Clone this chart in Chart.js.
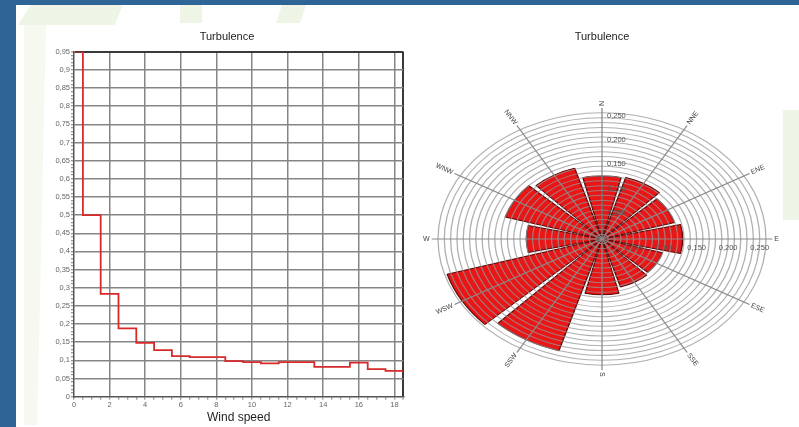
<!DOCTYPE html>
<html>
<head>
<meta charset="utf-8">
<script src="https://cdn.jsdelivr.net/npm/chart.js@4/dist/chart.umd.min.js"></script>
<style>
  html, body { margin: 0; padding: 0; background: #ffffff; }
  #page { position: relative; width: 799px; height: 427px; overflow: hidden; background: #ffffff; }
  .frame { position: absolute; background: #2f6496; }
  .tint { position: absolute; background: #eef5e6; }
  canvas { position: absolute; }
</style>
</head>
<body>
<div id="page">
  <div class="tint" style="left:18px;top:5px;width:105px;height:20px;clip-path:polygon(12% 0,100% 0,92% 100%,0 100%);"></div>
  <div class="tint" style="left:24px;top:25px;width:22px;height:400px;clip-path:polygon(0 0,100% 0,60% 100%,0 100%);opacity:0.6;"></div>
  <div class="tint" style="left:180px;top:5px;width:22px;height:18px;"></div>
  <div class="tint" style="left:276px;top:5px;width:30px;height:18px;clip-path:polygon(20% 0,100% 0,80% 100%,0 100%);"></div>
  <div class="tint" style="left:783px;top:110px;width:16px;height:110px;"></div>
  <div class="frame" style="left:0;top:0;width:799px;height:5px;"></div>
  <div class="frame" style="left:0;top:0;width:16px;height:427px;"></div>
  <canvas id="stepChart" width="400" height="407" style="left:20px;top:20px;width:400px;height:407px;"></canvas>
  <canvas id="roseChart" width="379" height="407" style="left:420px;top:20px;width:379px;height:407px;"></canvas>
</div>
<script>
// ---- Turbulence by wind speed bin (bins centred on whole m/s) ----
const windSpeedBins = [0, 1, 2, 3, 4, 5, 6, 7, 8, 9, 10, 11, 12, 13, 14, 15, 16, 17, 18];
const turbulenceBySpeed = [0.95, 0.5, 0.283, 0.188, 0.148, 0.128, 0.112, 0.109, 0.109, 0.098,
                           0.095, 0.092, 0.095, 0.095, 0.082, 0.082, 0.094, 0.076, 0.071];
const speedAxisMax = 18.5;
const turbulenceAxisMax = 0.95;

// ---- Turbulence by direction sector ----
const directionLabels = ['N', 'NNE', 'ENE', 'E', 'ESE', 'SSE', 'S', 'SSW', 'WSW', 'W', 'WNW', 'NNW'];
const turbulenceByDirection = [0.130, 0.132, 0.120, 0.128, 0.100, 0.103, 0.115, 0.240, 0.256, 0.120, 0.160, 0.152];
const roseRingMax = 0.26;
const roseTickLabels = [0.05, 0.10, 0.15, 0.20, 0.25];

const FONT = '"Liberation Sans", Arial, sans-serif';
const commaNum = (v, digits) => v.toFixed(digits).replace('.', ',');

// ---------- step chart ----------
// each bin is held flat from its lower edge to its upper edge
const stepPoints = windSpeedBins.map((s, i) => ({ x: Math.max(0, s - 0.5), y: turbulenceBySpeed[i] }));
stepPoints.push({ x: speedAxisMax, y: turbulenceBySpeed[turbulenceBySpeed.length - 1] });

const isMajorY = v => Math.round(v * 100) % 5 === 0;
const yLabel = v => {
  const r = Math.round(v * 100) / 100;
  return String(r).replace('.', ',');
};

new Chart(document.getElementById('stepChart'), {
  type: 'line',
  data: {
    datasets: [{
      data: stepPoints,
      stepped: true,
      borderColor: '#d82a2a',
      borderWidth: 1.8,
      pointRadius: 0,
      fill: false
    }]
  },
  options: {
    responsive: false,
    animation: false,
    events: [],
    layout: { padding: { left: 30.7, right: 16.7, top: 0, bottom: 0 } },
    plugins: {
      legend: { display: false },
      tooltip: { enabled: false },
      title: {
        display: true,
        text: 'Turbulence',
        color: '#222',
        font: { family: FONT, size: 11, weight: 'normal' },
        padding: { top: 10, bottom: 8.5 }
      }
    },
    scales: {
      x: {
        type: 'linear',
        min: 0,
        max: speedAxisMax,
        afterFit: s => { s.height = 30.3; },
        ticks: {
          stepSize: 0.5,
          autoSkip: false,
          maxRotation: 0,
          padding: 1,
          color: '#666',
          font: { family: FONT, size: 7.5 },
          callback: v => (Math.abs(v % 2) < 1e-9 ? String(v) : '')
        },
        grid: {
          color: c => {
            const v = c.tick ? c.tick.value : 0;
            if (Math.abs(v - speedAxisMax) < 1e-9) return '#3a3a3a';
            if (v > 0 && Math.abs(v % 2) < 1e-9) return '#858585';
            return 'rgba(0,0,0,0)';
          },
          lineWidth: c => (c.tick && Math.abs(c.tick.value - speedAxisMax) < 1e-9 ? 2 : 1.5),
          tickColor: '#777',
          tickLength: 3,
          tickWidth: 1
        },
        border: { color: '#555', width: 1.5 },
        title: {
          display: true,
          text: 'Wind speed',
          color: '#1e1e1e',
          font: { family: FONT, size: 12 },
          padding: { top: 0, bottom: 2 }
        }
      },
      y: {
        min: 0,
        max: turbulenceAxisMax,
        afterFit: s => { s.width = 23.3; },
        ticks: {
          stepSize: 0.01,
          autoSkip: false,
          padding: 1,
          color: '#666',
          font: { family: FONT, size: 7.5 },
          callback: v => (isMajorY(v) ? yLabel(v) : '')
        },
        grid: {
          color: c => {
            const v = c.tick ? c.tick.value : 0;
            if (Math.abs(v - turbulenceAxisMax) < 1e-9) return '#3a3a3a';
            if (v > 0 && isMajorY(v)) return '#858585';
            return 'rgba(0,0,0,0)';
          },
          lineWidth: c => (c.tick && Math.abs(c.tick.value - turbulenceAxisMax) < 1e-9 ? 2 : 1.5),
          tickColor: '#777',
          tickLength: 3,
          tickWidth: 1
        },
        border: { color: '#555', width: 1.5 }
      }
    }
  }
});

// ---------- direction rose ----------
// sectors are 27 deg wide with a 3 deg gap; the N sector is split in two halves
const SECTOR_DEG = 27, GAP_DEG = 3, ROSE_STRETCH = 1.3;
const arcValues = [], arcAngles = [], arcIsGap = [];
function pushArc(v, a, gap) { arcValues.push(v); arcAngles.push(a); arcIsGap.push(gap); }
pushArc(turbulenceByDirection[0], SECTOR_DEG / 2, false);
pushArc(0, GAP_DEG, true);
for (let i = 1; i < turbulenceByDirection.length; i++) {
  pushArc(turbulenceByDirection[i], SECTOR_DEG, false);
  pushArc(0, GAP_DEG, true);
}
pushArc(turbulenceByDirection[0], SECTOR_DEG / 2, false);

const roseStretch = {
  id: 'roseStretch',
  beforeDatasetsDraw(chart) {
    const r = chart.scales.r, ctx = chart.ctx;
    ctx.save();
    ctx.translate(r.xCenter, 0);
    ctx.scale(ROSE_STRETCH, 1);
    ctx.translate(-r.xCenter, 0);
  },
  afterDraw(chart) {
    const r = chart.scales.r, ctx = chart.ctx;
    ctx.restore();
    const cx = r.xCenter, cy = r.yCenter;
    ctx.save();
    ctx.fillStyle = '#555';
    ctx.font = '7.5px ' + FONT;
    // value labels along the N and E axes
    roseTickLabels.forEach(v => {
      const d = r.getDistanceFromCenterForValue(v);
      ctx.textAlign = 'left';
      ctx.textBaseline = 'middle';
      ctx.fillText(commaNum(v, 3), cx + 5, cy - d - 2);
      ctx.textAlign = 'center';
      ctx.fillText(commaNum(v, 3), cx + d * ROSE_STRETCH, cy + 9);
    });
    // direction labels, turned along their spokes
    ctx.fillStyle = '#444';
    ctx.font = '7px ' + FONT;
    ctx.textBaseline = 'middle';
    directionLabels.forEach((lab, i) => {
      const end = r.getPointPosition(i, r.getDistanceFromCenterForValue(r.max));
      const dx = (end.x - cx) * ROSE_STRETCH, dy = end.y - cy;
      const len = Math.hypot(dx, dy);
      const ux = dx / len, uy = dy / len;
      const phi = Math.atan2(dy, dx);
      ctx.save();
      ctx.translate(cx + dx + ux * 2, cy + dy + uy * 2);
      if (dx >= -0.5) { ctx.rotate(phi); ctx.textAlign = 'left'; }
      else { ctx.rotate(phi + Math.PI); ctx.textAlign = 'right'; }
      ctx.fillText(lab, 0, 0);
      ctx.restore();
    });
    ctx.restore();
  }
};

new Chart(document.getElementById('roseChart'), {
  type: 'polarArea',
  data: {
    labels: directionLabels,
    datasets: [{
      data: arcValues,
      angle: c => arcAngles[c.dataIndex],
      backgroundColor: c => (arcIsGap[c.dataIndex] ? 'rgba(0,0,0,0)' : '#e81616'),
      borderColor: '#5c0808',
      borderWidth: c => (arcIsGap[c.dataIndex] ? 0 : 1)
    }]
  },
  options: {
    responsive: false,
    animation: false,
    events: [],
    layout: { padding: { left: 51, right: 66, top: 0, bottom: 57 } },
    plugins: {
      legend: { display: false },
      tooltip: { enabled: false },
      title: {
        display: true,
        text: 'Turbulence',
        color: '#222',
        font: { family: FONT, size: 11, weight: 'normal' },
        padding: { top: 10, bottom: 64.8 }
      }
    },
    scales: {
      r: {
        min: 0,
        max: 0.27,
        startAngle: 0,
        ticks: { display: false, stepSize: 0.01 },
        pointLabels: { display: false },
        angleLines: { display: true, color: '#8a8a8a', lineWidth: 1 },
        grid: {
          circular: true,
          z: 1,
          lineWidth: 1,
          color: c => (c.tick && c.tick.value > roseRingMax + 1e-6 ? 'rgba(0,0,0,0)' : 'rgba(150,150,150,0.75)')
        }
      }
    }
  },
  plugins: [roseStretch]
});
</script>
</body>
</html>
